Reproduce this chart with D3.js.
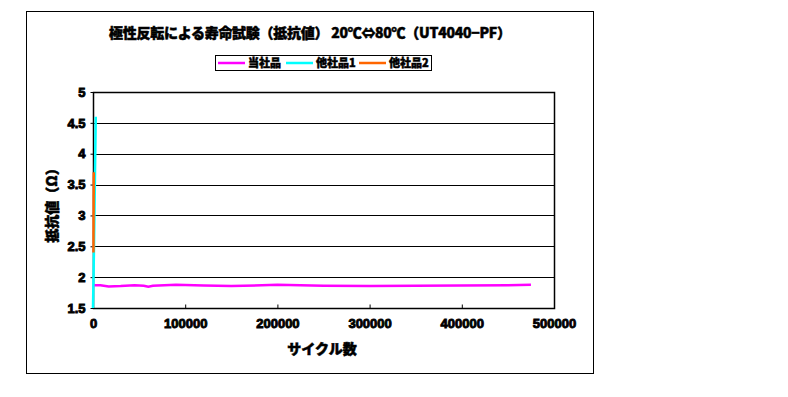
<!DOCTYPE html>
<html>
<head>
<meta charset="utf-8">
<script src="https://cdn.jsdelivr.net/npm/d3@7"></script>
<style>
body { margin: 0; background: #fff; }
text { font-family: "Noto Sans CJK JP", "Liberation Sans", sans-serif; font-weight: 900; fill: #000; stroke: #000; stroke-width: 0.5px; }
</style>
</head>
<body>
<svg id="chart"></svg>
<script>
// data
var titleText = "極性反転による寿命試験（抵抗値） 20℃⇔80℃（UT4040−PF）";
var seriesNames = ["当社品", "他社品1", "他社品2"];
var seriesColors = ["#ff00ff", "#00ffff", "#ff6600"];
var xTicks = [0, 100000, 200000, 300000, 400000, 500000];
var yTicks = [1.5, 2, 2.5, 3, 3.5, 4, 4.5, 5];

var ownCycles = [0, 8000, 17000, 30000, 45000, 55000, 60000, 65000, 90000, 120000, 150000, 200000, 250000, 300000, 350000, 400000, 450000, 475000];
var ownValues = [1.87, 1.87, 1.85, 1.855, 1.87, 1.86, 1.845, 1.86, 1.875, 1.865, 1.855, 1.875, 1.86, 1.855, 1.86, 1.865, 1.87, 1.875];
var other1Cycles = [0, 1000, 2000, 3000];
var other1Values = [1.5, 2.4, 3.5, 4.6];
var other2Cycles = [500, 800];
var other2Values = [2.4, 3.7];

var width = 788, height = 397;
var plot = {left: 93, right: 554, top: 92, bottom: 308};

var svg = d3.select("#chart").attr("width", width).attr("height", height);

// outer frame
svg.append("rect")
    .attr("x", 26.5).attr("y", 11.5)
    .attr("width", 567).attr("height", 362)
    .attr("fill", "none").attr("stroke", "#000").attr("stroke-width", 1);

var x = d3.scaleLinear().domain([0, 500000]).range([plot.left, plot.right]);
var y = d3.scaleLinear().domain([1.5, 5]).range([plot.bottom, plot.top]);

// gridlines
svg.append("g").selectAll("line")
    .data(yTicks.filter(function(d) { return d > 1.5 && d < 5; }))
    .enter().append("line")
    .attr("x1", plot.left).attr("x2", plot.right)
    .attr("y1", function(d) { return Math.round(y(d)) + 0.5; })
    .attr("y2", function(d) { return Math.round(y(d)) + 0.5; })
    .attr("stroke", "#000").attr("stroke-width", 1);

// plot frame
svg.append("rect")
    .attr("x", plot.left + 0.5).attr("y", plot.top + 0.5)
    .attr("width", plot.right - plot.left).attr("height", plot.bottom - plot.top)
    .attr("fill", "none").attr("stroke", "#000").attr("stroke-width", 1.5);

function numStyle(sel) {
    sel.style("font-family", "'Liberation Sans', Arial, sans-serif")
        .style("font-weight", "bold")
        .style("font-size", "13px")
        .style("stroke", "#000")
        .style("stroke-width", "0.9px");
}

// x axis
var xAxis = svg.append("g")
    .attr("transform", "translate(0," + (plot.bottom + 0.5) + ")")
    .call(d3.axisBottom(x).tickValues(xTicks).tickSizeInner(-4).tickSizeOuter(0).tickPadding(10).tickFormat(d3.format("d")));
xAxis.select(".domain").remove();
xAxis.selectAll("text").call(numStyle);

// y axis
var yAxis = svg.append("g")
    .attr("transform", "translate(" + (plot.left + 0.5) + ",0)")
    .call(d3.axisLeft(y).tickValues(yTicks).tickSizeInner(3).tickSizeOuter(0).tickPadding(5).tickFormat(d3.format("")));
yAxis.select(".domain").remove();
yAxis.selectAll("text").call(numStyle);

// series
var line = d3.line()
    .x(function(d) { return x(d[0]); })
    .y(function(d) { return y(d[1]); });

var series = [
    d3.zip(ownCycles, ownValues),
    d3.zip(other1Cycles, other1Values),
    d3.zip(other2Cycles, other2Values)
];
svg.append("g").selectAll("path")
    .data(series)
    .enter().append("path")
    .attr("d", line)
    .attr("fill", "none")
    .attr("stroke", function(d, i) { return seriesColors[i]; })
    .attr("stroke-width", 2.5);

// title
svg.append("text")
    .attr("x", 310).attr("y", 38)
    .attr("text-anchor", "middle")
    .attr("textLength", 402)
    .style("font-size", "14px")
    .text(titleText);

// legend
var legend = svg.append("g");
legend.append("rect")
    .attr("x", 215.5).attr("y", 55.5).attr("width", 216).attr("height", 15)
    .attr("fill", "#fff").attr("stroke", "#000").attr("stroke-width", 1);
var legendX = [218, 286, 359];
var item = legend.selectAll("g.item")
    .data(seriesNames)
    .enter().append("g")
    .attr("transform", function(d, i) { return "translate(" + legendX[i] + ",63)"; });
item.append("line")
    .attr("x1", 0).attr("x2", 27)
    .attr("stroke", function(d, i) { return seriesColors[i]; })
    .attr("stroke-width", 2.5);
item.append("text")
    .attr("x", 30).attr("y", 4)
    .style("font-size", "11px")
    .text(function(d) { return d; });

// axis titles
svg.append("text")
    .attr("x", 322).attr("y", 354)
    .attr("text-anchor", "middle")
    .style("font-size", "14px")
    .text("サイクル数");
svg.append("text")
    .attr("transform", "translate(57,202) rotate(-90)")
    .attr("text-anchor", "middle")
    .style("font-size", "14px")
    .text("抵抗値（Ω）");
</script>
</body>
</html>
